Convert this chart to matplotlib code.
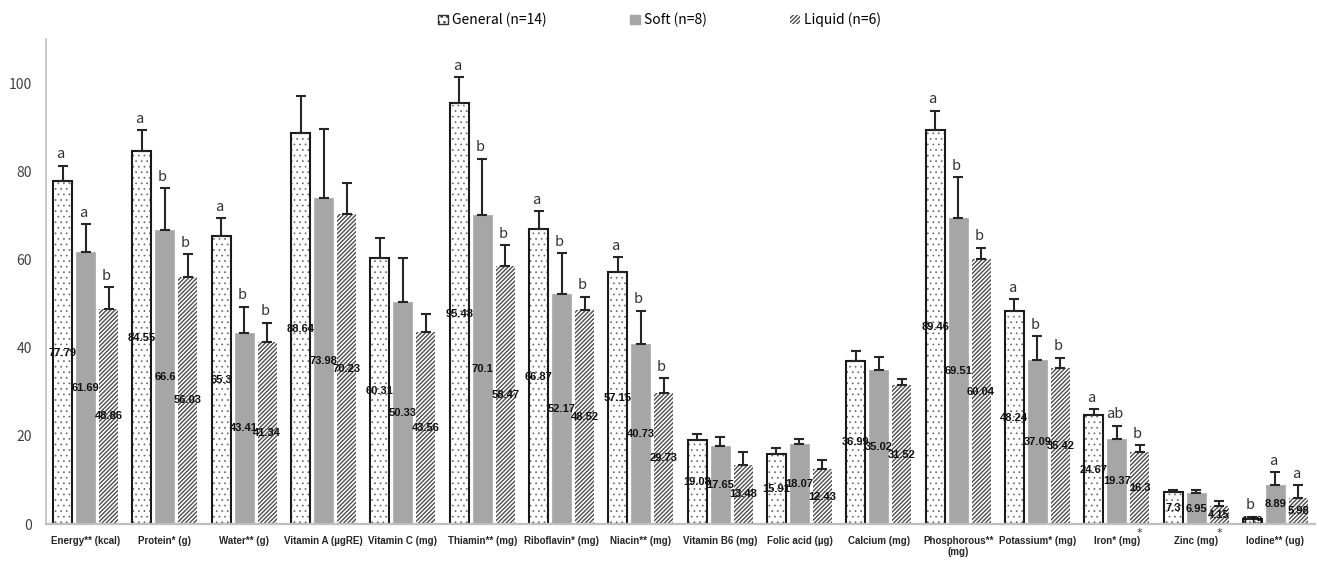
import numpy as np
import matplotlib
matplotlib.use('Agg')
import matplotlib.pyplot as plt
from matplotlib.patches import Patch

categories = ['Energy** (kcal)', 'Protein* (g)', 'Water** (g)', 'Vitamin A (µgRE)',
              'Vitamin C (mg)', 'Thiamin** (mg)', 'Riboflavin* (mg)', 'Niacin** (mg)',
              'Vitamin B6 (mg)', 'Folic acid (µg)', 'Calcium (mg)', 'Phosphorous**\n(mg)',
              'Potassium* (mg)', 'Iron* (mg)', 'Zinc (mg)', 'Iodine** (ug)']

general = [77.79, 84.55, 65.3, 88.64, 60.31, 95.48, 66.87, 57.15, 19.08, 15.91, 36.99, 89.46, 48.24, 24.67, 7.3, 1.19]
soft = [61.69, 66.6, 43.41, 73.98, 50.33, 70.1, 52.17, 40.73, 17.65, 18.07, 35.02, 69.51, 37.09, 19.37, 6.95, 8.89]
liquid = [48.86, 56.03, 41.34, 70.23, 43.56, 58.47, 48.52, 29.73, 13.48, 12.43, 31.52, 60.04, 35.42, 16.3, 4.15, 5.98]

general_err = [3.5, 4.7, 4.0, 8.4, 4.5, 5.8, 4.1, 3.4, 1.4, 1.3, 2.3, 4.3, 2.7, 1.4, 0.5, 0.5]
soft_err = [6.3, 9.5, 5.9, 15.7, 10.0, 12.7, 9.2, 7.6, 2.0, 1.3, 2.8, 9.1, 5.5, 2.9, 0.8, 2.8]
liquid_err = [4.8, 5.1, 4.3, 7.2, 4.1, 4.8, 3.0, 3.3, 2.9, 2.1, 1.4, 2.6, 2.3, 1.6, 1.1, 2.8]

general_letters = ['a', 'a', 'a', '', '', 'a', 'a', 'a', '', '', '', 'a', 'a', 'a', '', 'b']
soft_letters = ['a', 'b', 'b', '', '', 'b', 'b', 'b', '', '', '', 'b', 'b', 'ab', '', 'a']
liquid_letters = ['b', 'b', 'b', '', '', 'b', 'b', 'b', '', '', '', 'b', 'b', 'b', '', 'a']
liquid_stars = ['', '', '', '', '', '', '', '', '', '', '', '', '', '*', '*', '']

legend_labels = ['General (n=14)', 'Soft (n=8)', 'Liquid (n=6)']

x = np.arange(len(categories))
w = 0.24
off = 0.29


def set_hatch_lw(patches, lw):
    for p in patches:
        if hasattr(p, 'set_hatch_linewidth'):
            p.set_hatch_linewidth(lw)


fig = plt.figure(figsize=(13.19, 5.61), dpi=100)
ax = fig.add_axes([46 / 1319, 37 / 561, 1269 / 1319, 485 / 561])

# general: dotted fill + black outline
with plt.rc_context({'hatch.linewidth': 0.5}):
    b1 = ax.bar(x - off, general, w, color='white', edgecolor='#666666', hatch='...', linewidth=0, zorder=2)
set_hatch_lw(b1, 0.5)
ax.bar(x - off, general, w, fill=False, edgecolor='#1a1a1a', linewidth=1.5, zorder=3)
# soft: plain gray
ax.bar(x, soft, w, color='#a6a6a6', edgecolor='#a6a6a6', linewidth=0.5, zorder=2)
# liquid: diagonal hatch
with plt.rc_context({'hatch.linewidth': 1.0}):
    b3 = ax.bar(x + off, liquid, w, color='white', edgecolor='#4d4d4d', hatch='////////', linewidth=0, zorder=2)
set_hatch_lw(b3, 1.0)

series = [(x - off, general, general_err, general_letters),
          (x, soft, soft_err, soft_letters),
          (x + off, liquid, liquid_err, liquid_letters)]

for xs, vals, errs, letters in series:
    ax.errorbar(xs, vals, yerr=[np.zeros(len(errs)), errs], fmt='none',
                ecolor='#262626', elinewidth=1.5, capsize=3.5, capthick=1.5, zorder=4)
    for xi, v, e, lt in zip(xs, vals, errs, letters):
        ax.text(xi, v / 2, f'{v:g}', ha='center', va='center', fontsize=8,
                fontweight='bold', color='#111111', family='Liberation Sans', zorder=5)
        if lt:
            ax.text(xi - 0.03, v + e + 1.7, lt, ha='center', va='baseline', fontsize=10.5,
                    color='#333333', family='Noto Sans CJK KR', zorder=5)

for xi, s in zip(x + off, liquid_stars):
    if s:
        ax.text(xi, -1.0, s, ha='center', va='top', fontsize=8, color='#333333')

ax.set_xlim(-0.5, len(categories) - 0.5)
ax.set_ylim(0, 110)
ax.set_yticks([0, 20, 40, 60, 80, 100])
ax.set_xticks(x)
ax.set_xticklabels(categories, fontsize=7, fontweight='bold', color='#262626',
                   family='Liberation Sans', linespacing=1.1, va='top')
for lab in ax.get_yticklabels():
    lab.set_family('Noto Sans CJK KR')
    lab.set_fontsize(10)
    lab.set_color('#404040')
ax.tick_params(axis='both', length=0)
ax.tick_params(axis='x', pad=9)
ax.tick_params(axis='y', pad=10)

for side in ['top', 'right']:
    ax.spines[side].set_visible(False)
ax.spines['left'].set_color('#bfbfbf')
ax.spines['left'].set_linewidth(1.2)
ax.spines['bottom'].set_color('#bfbfbf')
ax.spines['bottom'].set_linewidth(1.6)
ax.spines['bottom'].set_zorder(6)

handles = [Patch(facecolor='white', edgecolor='#333333', hatch='...', linewidth=1.0),
           Patch(facecolor='#a6a6a6', edgecolor='#a6a6a6'),
           Patch(facecolor='white', edgecolor='#4d4d4d', hatch='////////', linewidth=0)]
fig.legend(handles, legend_labels, loc='upper center', bbox_to_anchor=(0.5, 1.0), ncol=3,
           frameon=False, handlelength=0.7, handleheight=0.7, handletextpad=0.3,
           columnspacing=6.0, prop={'family': 'Noto Sans CJK KR', 'size': 10})

fig.savefig('out.png', dpi=100)
